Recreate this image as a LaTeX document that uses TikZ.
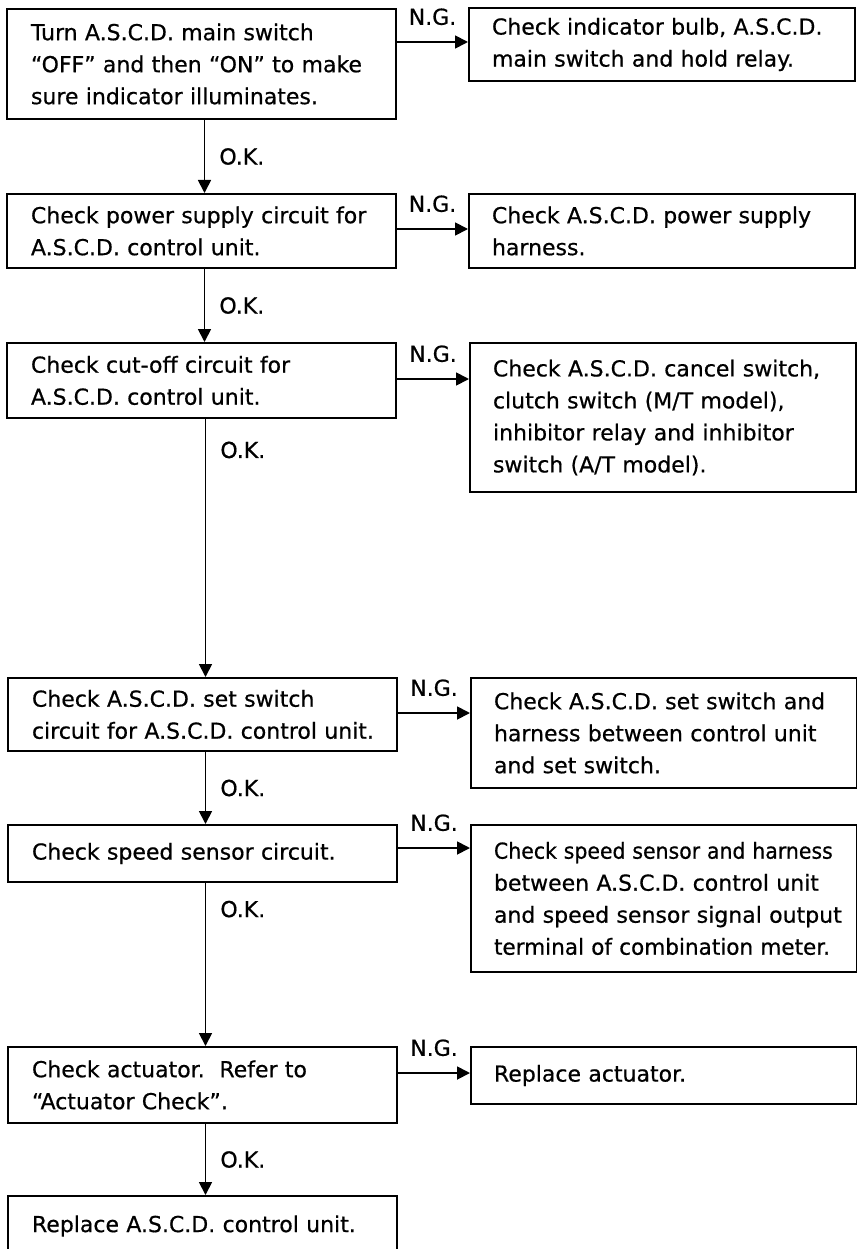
\documentclass[tikz,border=0pt]{standalone}
\usepackage{fontspec}
\usepackage{graphicx}
\setmainfont[FakeBold=0.6]{DejaVu Sans}
\usetikzlibrary{arrows.meta}
\begin{document}
\begin{tikzpicture}[x=1pt,y=-1pt,
  every node/.style={font=\fontsize{22}{32}\selectfont},
  lbox/.style={draw, line width=2pt, anchor=north west, inner xsep=24pt, inner ysep=0pt, text width=341pt, minimum width=389pt, align=left},
  rbox/.style={draw, line width=2pt, anchor=north west, inner xsep=23pt, inner ysep=0pt, text width=340pt, minimum width=386pt, align=left},
  arr/.style={line width=1.8pt, -{Triangle[length=13pt,width=13pt]}},
  ok/.style={anchor=west, inner sep=0pt, xshift=14pt},
  ng/.style={above=16pt, inner sep=0pt}]
\useasboundingbox (0,0) rectangle (856,1249);
% left column
\node[lbox, minimum height=110pt] (L1) at (6,8) {Turn A.S.C.D. main switch\\“OFF” and then “ON” to make\\sure indicator illuminates.};
\node[lbox, minimum height=74pt] (L2) at (6,193) {Check power supply circuit for\\A.S.C.D. control unit.};
\node[lbox, minimum height=75pt] (L3) at (6,342) {Check cut-off circuit for\\A.S.C.D. control unit.};
\node[lbox, minimum height=73pt] (L4) at (7,677) {Check A.S.C.D. set switch\\\mbox{circuit for A.S.C.D. control unit.}};
\node[lbox, minimum height=57pt] (L5) at (7,824) {Check speed sensor circuit.};
\node[lbox, minimum height=76pt] (L6) at (7,1046) {Check actuator.\ \ Refer to\\“Actuator Check”.};
\node[lbox, minimum height=60pt] (L7) at (7,1195) {Replace A.S.C.D. control unit.};
% right column
\node[rbox, minimum height=73pt] (R1) at (468,7) {Check indicator bulb, A.S.C.D.\\main switch and hold relay.};
\node[rbox, minimum height=74pt] (R2) at (468,193) {Check A.S.C.D. power supply\\harness.};
\node[rbox, minimum height=149pt] (R3) at (469,342) {Check A.S.C.D. cancel switch,\\clutch switch (M/T model),\\inhibitor relay and inhibitor\\switch (A/T model).};
\node[rbox, minimum height=110pt] (R4) at (470,677) {Check A.S.C.D. set switch and\\harness between control unit\\and set switch.};
\node[rbox, minimum height=147pt] (R5) at (470,824) {\scalebox{0.93}[1]{Check speed sensor and harness}\\between A.S.C.D. control unit\\\mbox{and speed sensor signal output}\\\scalebox{0.98}[1]{terminal of combination meter.}};
\node[rbox, minimum height=57pt] (R6) at (470,1046) {Replace actuator.};
% O.K. connectors
\draw[arr] ([xshift=3pt]L1.south) -- node[ok]{O.K.} ([xshift=3pt]L1.south |- L2.north);
\draw[arr] ([xshift=3pt]L2.south) -- node[ok]{O.K.} ([xshift=3pt]L2.south |- L3.north);
\draw[arr] ([xshift=4pt]L3.south) -- node[ok, pos=0.12]{O.K.} ([xshift=3pt]L4.north);
\draw[arr] ([xshift=3pt]L4.south) -- node[ok]{O.K.} ([xshift=3pt]L5.north);
\draw[arr] ([xshift=3pt]L5.south) -- node[ok, pos=0.16]{O.K.} ([xshift=3pt]L6.north);
\draw[arr] ([xshift=3pt]L6.south) -- node[ok]{O.K.} ([xshift=3pt]L7.north);
% N.G. connectors
\coordinate (n1) at (0,42);
\coordinate (n2) at (0,229);
\coordinate (n3) at (0,379);
\coordinate (n4) at (0,713);
\coordinate (n5) at (0,848);
\coordinate (n6) at (0,1073);
\draw[arr] (L1.east |- n1) -- node[ng]{N.G.} (R1.west |- n1);
\draw[arr] (L2.east |- n2) -- node[ng]{N.G.} (R2.west |- n2);
\draw[arr] (L3.east |- n3) -- node[ng]{N.G.} (R3.west |- n3);
\draw[arr] (L4.east |- n4) -- node[ng]{N.G.} (R4.west |- n4);
\draw[arr] (L5.east |- n5) -- node[ng]{N.G.} (R5.west |- n5);
\draw[arr] (L6.east |- n6) -- node[ng]{N.G.} (R6.west |- n6);
\end{tikzpicture}
\end{document}
